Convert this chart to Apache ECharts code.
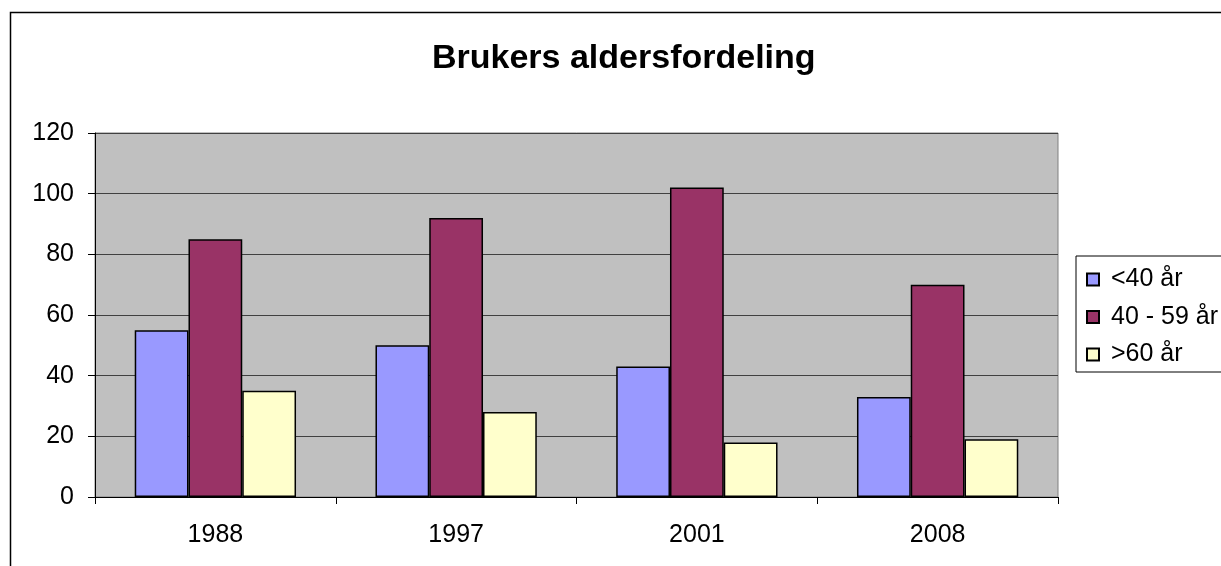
<!DOCTYPE html>
<html>
<head>
<meta charset="utf-8">
<script src="https://cdn.jsdelivr.net/npm/echarts@6/dist/echarts.min.js"></script>
<style>
  html, body { margin: 0; padding: 0; background: #fff; }
  #chart { width: 1221px; height: 566px; }
</style>
</head>
<body>
<div id="chart"></div>
<script>
// data
const years = ['1988', '1997', '2001', '2008']
const under40 = [55, 50, 43, 33]
const age40to59 = [85, 92, 102, 70]
const over60 = [35, 28, 18, 19]
const seriesNames = ['<40 år', '40 - 59 år', '>60 år']
const yTicks = { min: 0, max: 120, interval: 20 }

const font = 'Liberation Sans, Arial, sans-serif'
const chart = echarts.init(document.getElementById('chart'))

function barSeries(name, data, color) {
  return {
    name: name,
    type: 'bar',
    data: data,
    barGap: '0%',
    barCategoryGap: '33%',
    itemStyle: { color: color, borderColor: '#000', borderWidth: 1.5 }
  }
}

const option = {
  animation: false,
  backgroundColor: '#fff',
  textStyle: { fontFamily: font },
  graphic: [{
    type: 'rect',
    shape: { x: 10.5, y: 12.5, width: 1300, height: 700 },
    style: { fill: 'none', stroke: '#000', lineWidth: 1.5 },
    silent: true
  }],
  title: {
    text: 'Brukers aldersfordeling',
    left: 427,
    top: 37,
    textStyle: { fontSize: 34, fontWeight: 'bold', color: '#000', fontFamily: font }
  },
  legend: {
    orient: 'vertical',
    left: 1076,
    top: 256,
    itemWidth: 12,
    itemHeight: 12,
    itemGap: 12.5,
    padding: [11, 20, 5, 10],
    borderColor: '#000',
    borderWidth: 1,
    backgroundColor: '#fff',
    icon: 'rect',
    textStyle: { fontSize: 25, lineHeight: 25, color: '#000', fontFamily: font, padding: [0, 0, 0, 7] },
    data: seriesNames
  },
  grid: {
    left: 95,
    right: 163,
    top: 133,
    bottom: 69,
    show: true,
    backgroundColor: '#C0C0C0',
    borderColor: '#808080',
    borderWidth: 1
  },
  xAxis: {
    type: 'category',
    data: years,
    axisLine: { lineStyle: { color: '#000', width: 1 } },
    axisTick: { show: true, length: 7, interval: 0, lineStyle: { color: '#000' } },
    axisLabel: { fontSize: 25, color: '#000', margin: 26, fontFamily: font }
  },
  yAxis: {
    type: 'value',
    min: yTicks.min,
    max: yTicks.max,
    interval: yTicks.interval,
    axisLine: { show: true, lineStyle: { color: '#000', width: 1 } },
    axisTick: { show: true, length: 7, lineStyle: { color: '#000' } },
    axisLabel: { fontSize: 25, color: '#000', margin: 21, fontFamily: font },
    splitLine: { show: true, lineStyle: { color: '#404040', width: 1.2 } }
  },
  series: [
    barSeries(seriesNames[0], under40, '#9999FF'),
    barSeries(seriesNames[1], age40to59, '#993366'),
    barSeries(seriesNames[2], over60, '#FFFFCC')
  ]
}

chart.setOption(option)
</script>
</body>
</html>
